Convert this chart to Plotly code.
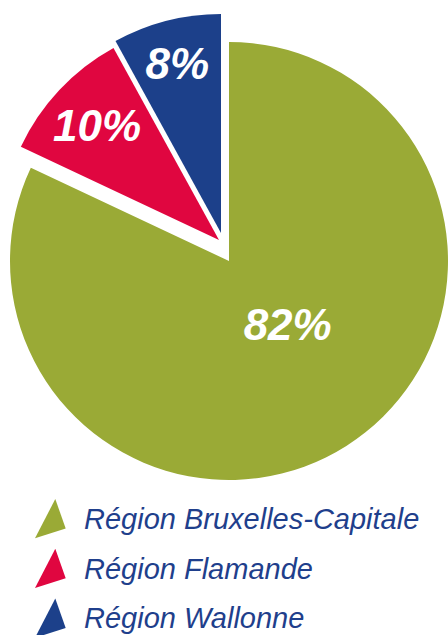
import plotly.graph_objects as go

# ---- data ----
regions = ["Région Bruxelles-Capitale", "Région Flamande", "Région Wallonne"]
shares = [82, 10, 8]
colors = ["#9AAA36", "#E00640", "#1C408A"]
text_color = "#1F3F8C"

W, H = 448, 635
R = 219  # pie radius in px
# slice centres (exploded slices are offset from the main centre)
centres = [(229, 261), (219, 240), (221, 233)]


def dom(cx, cy, r=R):
    return dict(x=[(cx - r) / W, (cx + r) / W],
                y=[1 - (cy + r) / H, 1 - (cy - r) / H])


fig = go.Figure()
for i, (cx, cy) in enumerate(centres):
    cols = [c if j == i else "rgba(0,0,0,0)" for j, c in enumerate(colors)]
    tt = []
    for j in range(len(shares)):
        if j != i:
            tt.append("")
        elif i == 0:
            tt.append(f"{shares[j]}%<br> ")
        else:
            tt.append(f"{shares[j]}%")
    fig.add_trace(go.Pie(
        labels=regions, values=shares, sort=False, direction="clockwise", rotation=0,
        marker=dict(colors=cols, line=dict(width=0)),
        texttemplate=tt, textposition="inside", insidetextorientation="horizontal",
        textfont=dict(family="Liberation Sans", size=44, color="white",
                      weight="bold", style="italic"),
        domain=dom(cx, cy), showlegend=False, hoverinfo="label+percent",
    ))

# custom legend (triangle glyphs + italic labels)
rows = list(range(len(regions)))
fig.add_trace(go.Scatter(x=[50] * len(rows), y=rows, mode="markers",
                         marker=dict(opacity=0), hovertext=regions,
                         hoverinfo="text", showlegend=False))

shapes, annotations = [], []
for i, (name, c) in enumerate(zip(regions, colors)):
    shapes.append(dict(type="path", xref="x", yref="y", xsizemode="pixel", ysizemode="pixel",
                       xanchor=50, yanchor=i, path="M 5.3,20 L 15.7,-9.5 L -15,-19.3 Z",
                       fillcolor=c, line=dict(width=0)))
    annotations.append(dict(x=82, y=i, xref="x", yref="y", xanchor="left", yanchor="middle",
                            text=name, showarrow=False,
                            font=dict(family="Liberation Sans", size=29, color=text_color,
                                      style="italic")))

fig.update_layout(
    width=W, height=H, margin=dict(l=0, r=0, t=0, b=0),
    paper_bgcolor="white", plot_bgcolor="white",
    xaxis=dict(domain=[0, 1], range=[0, W], visible=False, fixedrange=True),
    yaxis=dict(domain=[0, 145 / H], range=[2.332, -0.583], visible=False, fixedrange=True),
    shapes=shapes, annotations=annotations,
)

fig.write_html("out.html")
